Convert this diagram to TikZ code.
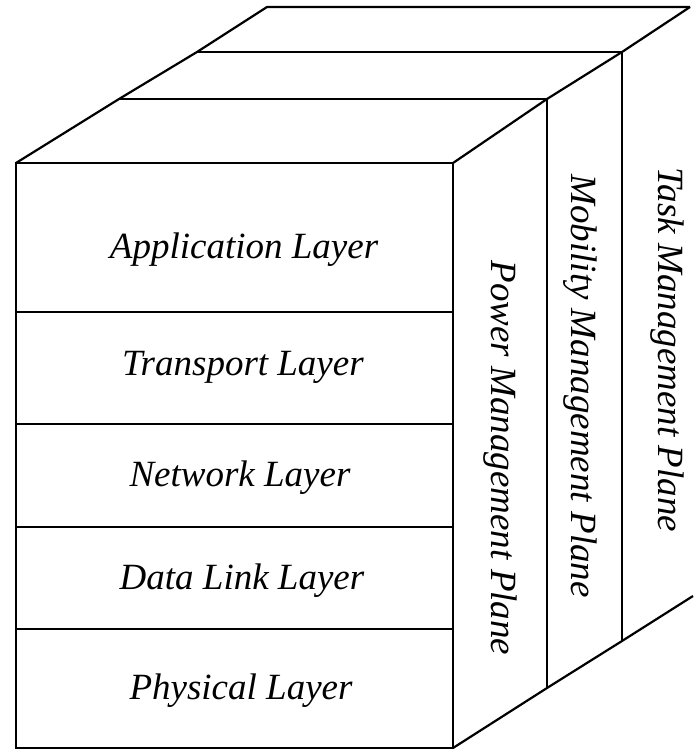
\documentclass[tikz,border=0pt]{standalone}
\usepackage{fontspec}
\setmainfont{Liberation Serif}
\begin{document}
\begin{tikzpicture}[x=1pt,y=-1pt,line width=2.2pt]
\tikzset{layertext/.style={font=\fontsize{37}{42}\selectfont\itshape, inner sep=0pt}}
\useasboundingbox (0,0) rectangle (693,751);

\coordinate (FTL) at (16,163);
\coordinate (FTR) at (453,163);
\coordinate (FBR) at (453,748);
\coordinate (BTL) at (267,7);
\coordinate (BTR) at (690,7);
\coordinate (BBR) at (693,596);

% front face with the layers
\draw (FTL) rectangle (FBR);
\foreach \y in {312,424,527,629}
{
    \draw (16,\y) -- (453,\y);
}

% top and the planes on the side
\draw (FTL) -- (119,99) -- (197,52) -- (BTL) -- (BTR);
\draw (FTR) -- (547,99) -- (622,52) -- (BTR);
\draw (119,99) -- (547,99) -- (547,688);
\draw (197,52) -- (622,52) -- (622,641);
\draw (FBR) -- (547,688) -- (622,641) -- (BBR);

\node[layertext] (app) at (244,250) {Application Layer};
\node[layertext] (trans) at (243,367) {Transport Layer};
\node[layertext] (net) at (240,478) {Network Layer};
\node[layertext] (link) at (242,581) {Data Link Layer};
\node[layertext] (phys) at (241,691) {Physical Layer};

\node[layertext, rotate=-90] (power) at (500,458) {Power Management Plane};
\node[layertext, rotate=-90] (mobility) at (580,386) {Mobility Management Plane};
\node[layertext, rotate=-90] (task) at (667,350) {Task Management Plane};

\end{tikzpicture}
\end{document}
